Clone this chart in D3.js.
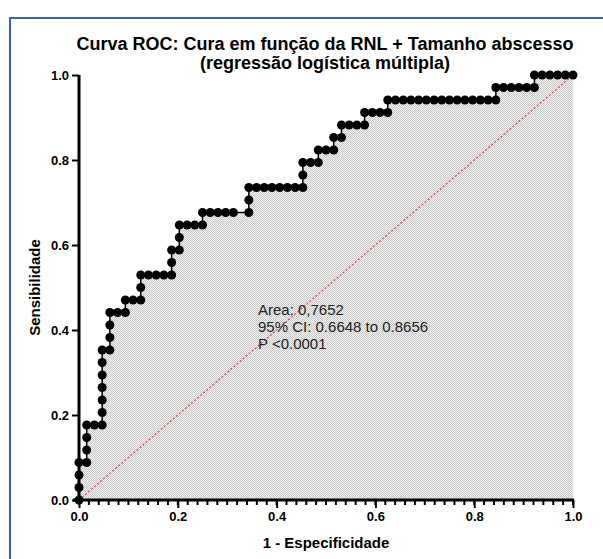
<!DOCTYPE html>
<html>
<head>
<meta charset="UTF-8">
<title>Curva ROC</title>
<style>
    body { margin: 0; background: white; }
    svg { display: block; font-family: "Liberation Sans", Arial, sans-serif; }
    .axis path, .axis line { stroke: black; }
    .axis text { font-weight: bold; font-size: 13px; fill: black; }
</style>
</head>
<body>
<script src="https://d3js.org/d3.v7.min.js"></script>
<script>
// 1 - Especificidade (fraction of false positives)
var oneMinusSpec = [
    0, 0, 0, 0,
    0.0156, 0.0156, 0.0156, 0.0156,
    0.0313, 0.0469,
    0.0469, 0.0469, 0.0469, 0.0469, 0.0469, 0.0469,
    0.0625, 0.0625, 0.0625, 0.0625,
    0.0781, 0.0938,
    0.0938,
    0.1094, 0.125,
    0.125, 0.125,
    0.1406, 0.1563, 0.1719, 0.1875,
    0.1875, 0.1875,
    0.2031,
    0.2031, 0.2031,
    0.2188, 0.2344, 0.25,
    0.25,
    0.2656, 0.2813, 0.2969, 0.3125, 0.3438,
    0.3438, 0.3438,
    0.3594, 0.375, 0.3906, 0.4063, 0.4219, 0.4375, 0.4531,
    0.4531, 0.4531,
    0.4688, 0.4844,
    0.4844,
    0.5, 0.5156,
    0.5156,
    0.5313,
    0.5313,
    0.5469, 0.5625, 0.5781,
    0.5781,
    0.5938, 0.6094, 0.625,
    0.625,
    0.6406, 0.6563, 0.6719, 0.6875, 0.7031, 0.7188, 0.7344, 0.75, 0.7656, 0.7813, 0.7969, 0.8125, 0.8281, 0.8438,
    0.8438,
    0.8594, 0.875, 0.8906, 0.9063, 0.9219,
    0.9219,
    0.9375, 0.9531, 0.9688, 0.9844, 1
];

// Sensibilidade
var sensitivity = [
    0, 0.0294, 0.0588, 0.0882,
    0.0882, 0.1176, 0.1471, 0.1765,
    0.1765, 0.1765,
    0.2059, 0.2353, 0.2647, 0.2941, 0.3235, 0.3529,
    0.3529, 0.3824, 0.4118, 0.4412,
    0.4412, 0.4412,
    0.4706,
    0.4706, 0.4706,
    0.5, 0.5294,
    0.5294, 0.5294, 0.5294, 0.5294,
    0.5588, 0.5882,
    0.5882,
    0.6176, 0.6471,
    0.6471, 0.6471, 0.6471,
    0.6765,
    0.6765, 0.6765, 0.6765, 0.6765, 0.6765,
    0.7059, 0.7353,
    0.7353, 0.7353, 0.7353, 0.7353, 0.7353, 0.7353, 0.7353,
    0.7647, 0.7941,
    0.7941, 0.7941,
    0.8235,
    0.8235, 0.8235,
    0.8529,
    0.8529,
    0.8824,
    0.8824, 0.8824, 0.8824,
    0.9118,
    0.9118, 0.9118, 0.9118,
    0.9412,
    0.9412, 0.9412, 0.9412, 0.9412, 0.9412, 0.9412, 0.9412, 0.9412, 0.9412, 0.9412, 0.9412, 0.9412, 0.9412, 0.9412,
    0.9706,
    0.9706, 0.9706, 0.9706, 0.9706, 0.9706,
    1,
    1, 1, 1, 1, 1
];

var xTicks = [0, 0.2, 0.4, 0.6, 0.8, 1.0];
var yTicks = [0, 0.2, 0.4, 0.6, 0.8, 1.0];
var titleLines = ["Curva ROC: Cura em função da RNL + Tamanho abscesso", "(regressão logística múltipla)"];
var statsLines = ["Area: 0,7652", "95% CI: 0.6648 to 0.8656", "P <0.0001"];

var width = 603, height = 559;

var svg = d3.select("body").append("svg")
    .attr("width", width)
    .attr("height", height);

// dotted grey fill pattern under the curve
var defs = svg.append("defs");
var pat = defs.append("pattern")
    .attr("id", "checker")
    .attr("width", 2).attr("height", 2)
    .attr("patternUnits", "userSpaceOnUse");
pat.append("rect").attr("width", 2).attr("height", 2).attr("fill", "#f2f2f2");
pat.append("rect").attr("width", 1).attr("height", 1).attr("fill", "#c8c8c8");
pat.append("rect").attr("x", 1).attr("y", 1).attr("width", 1).attr("height", 1).attr("fill", "#c8c8c8");

// outer frame
svg.append("rect")
    .attr("x", 10).attr("y", 18)
    .attr("width", 620).attr("height", 600)
    .attr("fill", "none")
    .attr("stroke", "#3a62a8")
    .attr("stroke-width", 2);

var x = d3.scaleLinear().domain([0, 1]).range([79, 573]);
var y = d3.scaleLinear().domain([0, 1]).range([500, 75]);

var pts = oneMinusSpec.map(function(d, i) { return [d, sensitivity[i]]; });

// area under curve
var area = d3.area()
    .x(function(d) { return x(d[0]); })
    .y0(y(0))
    .y1(function(d) { return y(d[1]); });
svg.append("path")
    .datum(pts)
    .attr("d", area)
    .attr("fill", "url(#checker)");

// reference diagonal
svg.append("line")
    .attr("x1", x(0)).attr("y1", y(0))
    .attr("x2", x(1)).attr("y2", y(1))
    .attr("stroke", "#f03c3c")
    .attr("stroke-width", 1.2)
    .attr("stroke-dasharray", "2,2");

// axes
var xAxis = svg.append("g")
    .attr("class", "axis")
    .attr("transform", "translate(0," + y(0) + ")");
xAxis.selectAll("line.minor")
    .data(d3.range(0, 51))
    .enter().append("line")
    .attr("class", "minor")
    .attr("x1", function(d) { return x(d / 50); })
    .attr("x2", function(d) { return x(d / 50); })
    .attr("y1", 0).attr("y2", 5)
    .attr("stroke-width", 2);
xAxis.call(d3.axisBottom(x).tickValues(xTicks).tickFormat(d3.format(".1f")).tickSize(8).tickPadding(4));
xAxis.select(".domain").attr("stroke-width", 3).attr("d", "M" + (x(0) - 6) + ",0H" + (x(1) + 1));
xAxis.selectAll(".tick line").attr("stroke-width", 2);

var yAxis = svg.append("g")
    .attr("class", "axis")
    .attr("transform", "translate(" + x(0) + ",0)");
yAxis.call(d3.axisLeft(y).tickValues(yTicks).tickFormat(d3.format(".1f")).tickSize(7).tickPadding(3));
yAxis.select(".domain").attr("stroke-width", 3).attr("d", "M0," + (y(0) + 1.5) + "V" + y(1));
yAxis.selectAll(".tick line").attr("stroke-width", 2);

// ROC line and points
var line = d3.line()
    .x(function(d) { return x(d[0]); })
    .y(function(d) { return y(d[1]); });
svg.append("path")
    .datum(pts)
    .attr("d", line)
    .attr("fill", "none")
    .attr("stroke", "black")
    .attr("stroke-width", 1.5);
svg.selectAll("circle.pt")
    .data(pts)
    .enter().append("circle")
    .attr("class", "pt")
    .attr("cx", function(d) { return x(d[0]); })
    .attr("cy", function(d) { return y(d[1]); })
    .attr("r", 4.5)
    .attr("fill", "black");

// titles
svg.selectAll("text.title")
    .data(titleLines)
    .enter().append("text")
    .attr("class", "title")
    .attr("x", 325)
    .attr("y", function(d, i) { return 50 + i * 19; })
    .attr("text-anchor", "middle")
    .attr("font-size", "18px")
    .attr("font-weight", "bold")
    .text(function(d) { return d; });

svg.append("text")
    .attr("x", x(0.5))
    .attr("y", 548)
    .attr("text-anchor", "middle")
    .attr("font-size", "15px")
    .attr("font-weight", "bold")
    .text("1 - Especificidade");

svg.append("text")
    .attr("transform", "translate(40," + y(0.5) + ") rotate(-90)")
    .attr("text-anchor", "middle")
    .attr("font-size", "15px")
    .attr("font-weight", "bold")
    .text("Sensibilidade");

// stats
svg.selectAll("text.stats")
    .data(statsLines)
    .enter().append("text")
    .attr("class", "stats")
    .attr("x", 258)
    .attr("y", function(d, i) { return 315 + i * 17; })
    .attr("font-size", "15px")
    .attr("fill", "#222")
    .text(function(d) { return d; });
</script>
</body>
</html>
